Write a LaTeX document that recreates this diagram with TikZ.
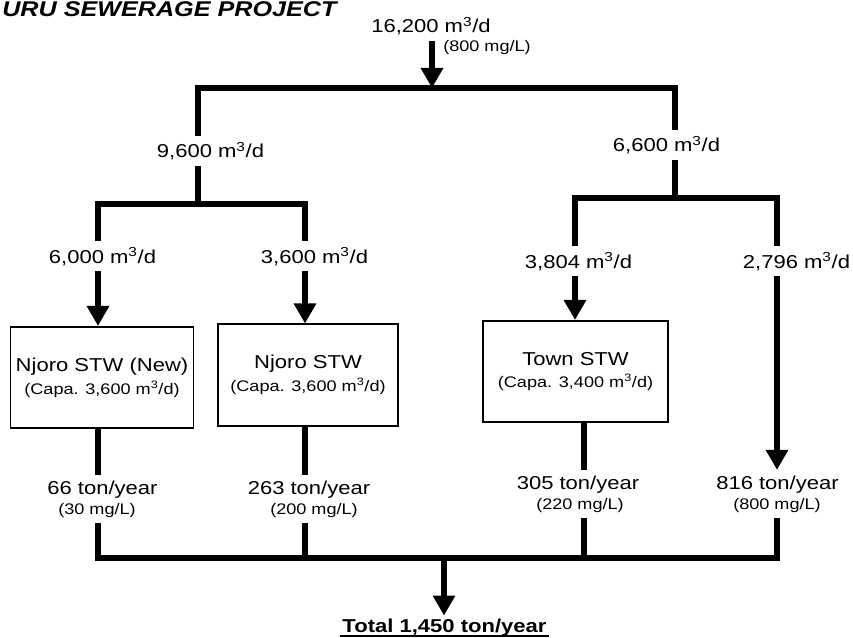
\documentclass[tikz,border=0pt]{standalone}
\usepackage{fontspec}
\setmainfont{Liberation Sans}[FakeStretch=1.18]
\usepackage{tikz}
\usetikzlibrary{calc}
\usetikzlibrary{arrows.meta}

\newcommand{\flowfont}{\fontsize{14}{17}\selectfont}
\newcommand{\concfont}{\fontsize{11.5}{14}\selectfont}
\newcommand{\cum}{m\textsuperscript{3}}

\begin{document}
\begin{tikzpicture}[x=0.75pt, y=-0.75pt,
    every node/.style={font=\flowfont, inner sep=4pt},
    flow/.style={line width=4pt},
    bar/.style={line width=4pt, line cap=rect},
    flowarrow/.style={line width=4pt, -{Triangle[width=16pt, length=15pt]}},
    plant/.style={draw, line width=1.3pt, fill=white, align=center, minimum height=76pt}]
\useasboundingbox (0,0) rectangle (853,638);

% ---------------- Title ----------------
\node[font=\fontsize{16}{19}\selectfont\bfseries\itshape, anchor=base west, inner sep=0pt] (title) at (2, 17) {URU SEWERAGE PROJECT};

% ---------------- Junctions ----------------
\coordinate (split) at (432, 88);
\coordinate (lt) at (198, 88);   \coordinate (rt) at (675, 88);
\coordinate (lbar) at (198, 204); \coordinate (rbar) at (675, 198);
\coordinate (ll) at (98, 204);   \coordinate (lr) at (305, 204);
\coordinate (rl) at (575, 198);  \coordinate (rr) at (777, 198);
\coordinate (bl) at (98, 558);   \coordinate (b2) at (305, 558);
\coordinate (b3) at (584, 558);  \coordinate (br) at (777, 558);
\coordinate (tsplit) at (444, 558);

% ---------------- Treatment Works ----------------
\node[plant, minimum width=135pt] (njnew) at (102, 377.5)
    {Njoro STW (New)\\{\concfont (Capa. 3,600 \cum/d)}};
\node[plant, minimum width=135pt] (njold) at (308, 375)
    {Njoro STW\\{\concfont (Capa. 3,600 \cum/d)}};
\node[plant, minimum width=139pt] (town) at (575.5, 371.5)
    {Town STW\\{\concfont (Capa. 3,400 \cum/d)}};

% ---------------- Flow Labels ----------------
\node[anchor=base] (inflow) at (431, 33) {16,200 \cum/d};
\node[anchor=base west, font=\concfont, inner sep=0pt] (inconc) at (443, 52) {(800 mg/L)};
\node[anchor=base] (qleft) at (210.5, 158) {9,600 \cum/d};
\node[anchor=base] (qright) at (666.5, 152) {6,600 \cum/d};
\node[anchor=base] (qnew) at (102.5, 263) {6,000 \cum/d};
\node[anchor=base] (qold) at (314.5, 263) {3,600 \cum/d};
\node[anchor=base] (qtown) at (578.5, 268) {3,804 \cum/d};
\node[anchor=base] (qbypass) at (796.5, 268) {2,796 \cum/d};

\node[anchor=base] (tnew) at (102.5, 494) {66 ton/year};
\node[anchor=base, font=\concfont] (cnew) at (97, 514) {(30 mg/L)};
\node[anchor=base] (told) at (309, 494) {263 ton/year};
\node[anchor=base, font=\concfont] (cold) at (314, 514) {(200 mg/L)};
\node[anchor=base] (ttown) at (578, 489) {305 ton/year};
\node[anchor=base, font=\concfont] (ctown) at (580, 509) {(220 mg/L)};
\node[anchor=base] (tbypass) at (777.5, 489) {816 ton/year};
\node[anchor=base, font=\concfont] (cbypass) at (777, 509) {(800 mg/L)};

\node[anchor=base, font=\flowfont\bfseries, inner sep=2pt] (total) at (444.5, 632) {Total 1,450 ton/year};
\draw[line width=1.4pt] ([yshift=-3pt]total.base west) -- ([yshift=-3pt]total.base east);

% ---------------- Inflow and Split ----------------
\draw[flowarrow] (inflow.south -| split) -- (split);
\draw[flow] (lt |- qleft.north) -- (lt) -- (rt) -- (rt |- qright.north);
\draw[flow] (lt |- qleft.south) -- (lbar);
\draw[flow] (rt |- qright.south) -- (rbar);
\draw[bar] (ll) -- (lr);
\draw[bar] (rl) -- (rr);

% ---------------- Feeds to Works ----------------
\draw[flow] (ll) -- (ll |- qnew.north);
\draw[flowarrow] (ll |- qnew.south) -- (ll |- njnew.north);
\draw[flow] (lr) -- (lr |- qold.north);
\draw[flowarrow] (lr |- qold.south) -- (lr |- njold.north);
\draw[flow] (rl) -- (rl |- qtown.north);
\draw[flowarrow] (rl |- qtown.south) -- (rl |- town.north);
\draw[flow] (rr) -- (rr |- qbypass.north);
\draw[flowarrow] (rr |- qbypass.south) -- (rr |- tbypass.north);

% ---------------- Loads to Total ----------------
\draw[flow] (bl |- njnew.south) -- (bl |- tnew.north);
\draw[flow] (bl |- cnew.south) -- (bl);
\draw[flow] (b2 |- njold.south) -- (b2 |- told.north);
\draw[flow] (b2 |- cold.south) -- (b2);
\draw[flow] (b3 |- town.south) -- (b3 |- ttown.north);
\draw[flow] (b3 |- ctown.south) -- (b3);
\draw[flow] (br |- cbypass.south) -- (br);
\draw[bar] (bl) -- (br);
\draw[flowarrow] (tsplit) -- (tsplit |- total.north);

\end{tikzpicture}
\end{document}
